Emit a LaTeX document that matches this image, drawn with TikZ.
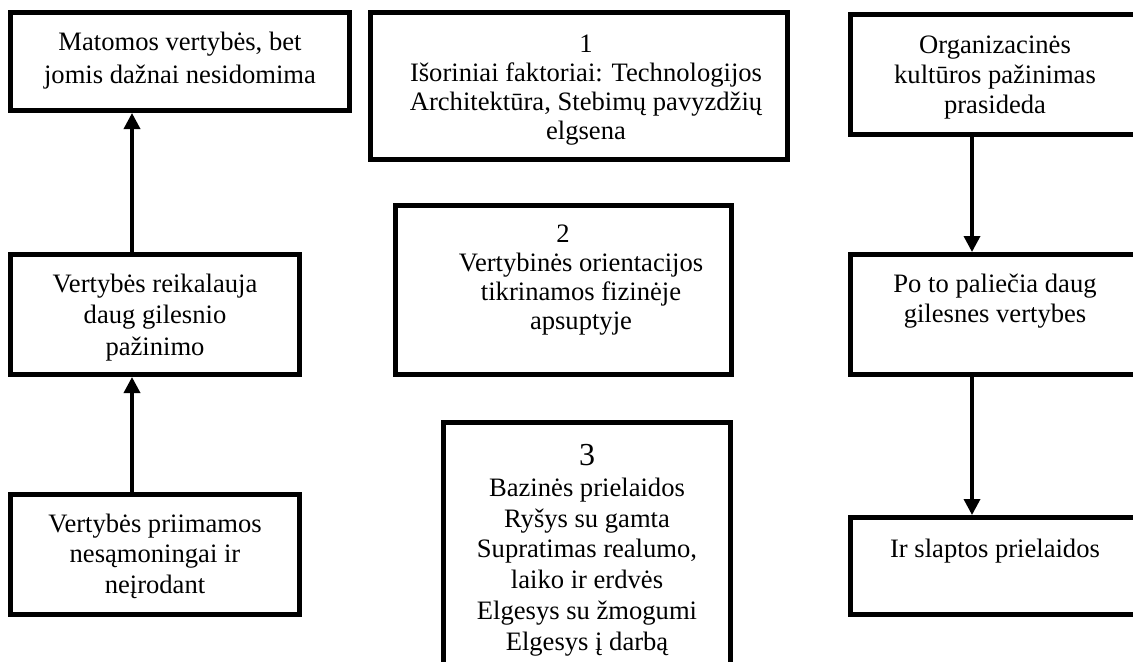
\documentclass[tikz,border=0pt]{standalone}
\usepackage{fontspec}
\setmainfont{Liberation Serif}
\usetikzlibrary{arrows.meta}
\newcommand\firstline[1]{\rule{0pt}{#1}}
\begin{document}
\begin{tikzpicture}[x=0.5pt,y=-0.5pt,
  frame/.style={draw=black,line width=2.5pt,fill=white,inner sep=0pt},
  label/.style={anchor=north,inner sep=0pt,align=center},
  uparrow/.style={line width=1.75pt,-{Triangle[width=8pt,length=8pt]}}]
\useasboundingbox (0,0) rectangle (1133,661);
\clip (0,0) rectangle (1133,661);
\fill[white] (0,0) rectangle (1133,661);

% left column
\node[frame,minimum width=169.5pt,minimum height=49pt] (A) at (180,61.5) {};
\node[frame,minimum width=144.5pt,minimum height=60pt] (B) at (155,314.5) {};
\node[frame,minimum width=144.5pt,minimum height=60pt] (C) at (155,554.5) {};
% middle column
\node[frame,minimum width=208.5pt,minimum height=73.5pt] (M1) at (579,86) {};
\node[frame,minimum width=168pt,minimum height=84.5pt] (M2) at (563.5,290) {};
\node[frame,minimum width=143.5pt,minimum height=147.5pt] (M3) at (587,570) {};
% right column
\node[frame,minimum width=144.5pt,minimum height=60pt] (R1) at (995,74.5) {};
\node[frame,minimum width=144.5pt,minimum height=60pt] (R2) at (995,314.5) {};
\node[frame,minimum width=144.5pt,minimum height=48.5pt] (R3) at (995,566) {};

% texts
\node[label,font=\fontsize{13.3}{16.5}\selectfont] (tA) at (180,30)
  {\firstline{10pt}Matomos vertybės, bet\\jomis dažnai nesidomima};
\node[label,font=\fontsize{13.3}{15.75}\selectfont] (tB) at (155,272)
  {\firstline{10pt}Vertybės reikalauja\\daug gilesnio\\pažinimo};
\node[label,font=\fontsize{13.3}{15.25}\selectfont] (tC) at (155,512)
  {\firstline{10pt}Vertybės priimamos\\nesąmoningai ir\\neįrodant};
\node[label,font=\fontsize{13.3}{14.5}\selectfont] (t1) at (586,32)
  {\firstline{10pt}1\\Išoriniai faktoriai: Technologijos\hspace*{20pt}\\Architektūra, Stebimų pavyzdžių\\elgsena};
\node[label,font=\fontsize{13.3}{14.5}\selectfont] (t2) at (581,222)
  {\firstline{10pt}2\hspace*{18pt}\\Vertybinės orientacijos\\tikrinamos fizinėje\\apsuptyje};
\node[label,font=\fontsize{13.3}{15.4}\selectfont] (t3) at (587,441)
  {\firstline{12pt}{\fontsize{16}{16}\selectfont 3}\\Bazinės prielaidos\\Ryšys su gamta\\Supratimas realumo,\\laiko ir erdvės\\Elgesys su žmogumi\\Elgesys į darbą};
\node[label,font=\fontsize{13.3}{15}\selectfont] (tR1) at (995,33)
  {\firstline{10pt}Organizacinės\\kultūros pažinimas\\prasideda};
\node[label,font=\fontsize{13.3}{15}\selectfont] (tR2) at (995,272)
  {\firstline{10pt}Po to paliečia daug\\gilesnes vertybes};
\node[label,font=\fontsize{13.3}{15}\selectfont] (tR3) at (995,537)
  {\firstline{10pt}Ir slaptos prielaidos};

% connectors
\coordinate (lx) at (132,0);
\coordinate (rx) at (972,0);
\draw[uparrow] (C.north -| lx) -- (B.south -| lx);
\draw[uparrow] (B.north -| lx) -- (A.south -| lx);
\draw[uparrow] (R1.south -| rx) -- (R2.north -| rx);
\draw[uparrow] (R2.south -| rx) -- (R3.north -| rx);
\end{tikzpicture}
\end{document}
